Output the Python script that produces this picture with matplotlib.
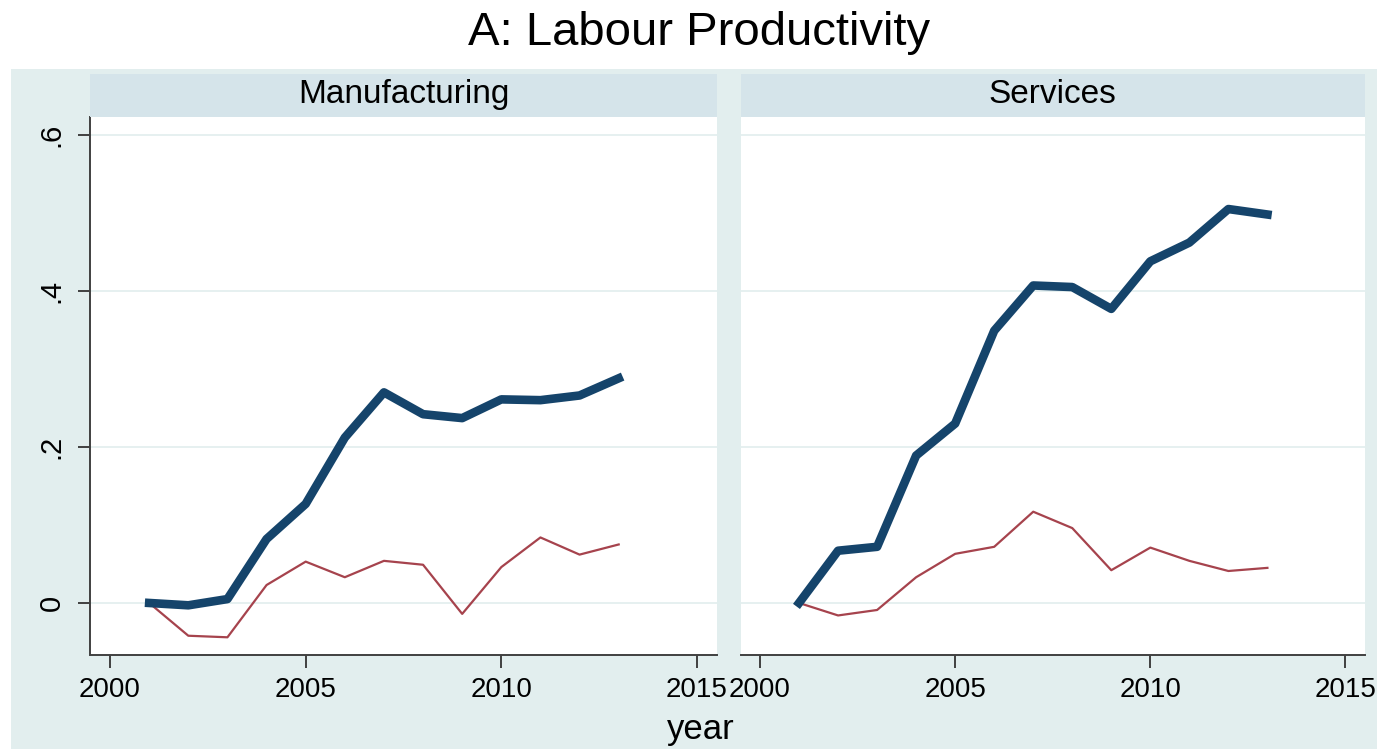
import numpy as np
import matplotlib.pyplot as plt
from matplotlib.patches import Rectangle

plt.rcParams['font.family'] = ['Liberation Sans', 'DejaVu Sans']

years = [2001, 2002, 2003, 2004, 2005, 2006, 2007, 2008, 2009, 2010, 2011, 2012, 2013]
panels = ['Manufacturing', 'Services']
# thick navy series
manuf_top = [0.000, -0.003, 0.005, 0.082, 0.127, 0.212, 0.270, 0.242, 0.237, 0.261, 0.260, 0.266, 0.288]
serv_top = [0.000, 0.067, 0.072, 0.189, 0.230, 0.349, 0.407, 0.405, 0.377, 0.438, 0.462, 0.505, 0.498]
# thin maroon series
manuf_low = [0.000, -0.042, -0.044, 0.023, 0.053, 0.033, 0.054, 0.049, -0.014, 0.046, 0.084, 0.062, 0.075]
serv_low = [0.000, -0.016, -0.009, 0.033, 0.063, 0.072, 0.117, 0.096, 0.042, 0.071, 0.054, 0.041, 0.045]
xticks = [2000, 2005, 2010, 2015]
yticks = [0, 0.2, 0.4, 0.6]
ylabels = ['0', '.2', '.4', '.6']

navy = '#15446b'
maroon = '#a6434d'
bg = '#e2eeee'
strip_c = '#d5e4ea'
grid_c = '#e4efef'
axis_c = '#404040'

W, H = 1383, 752
fig = plt.figure(figsize=(W / 100, H / 100), dpi=100)
fig.patch.set_facecolor('white')
fig.patches.append(Rectangle((11 / W, 3 / H), 1366 / W, 680 / H, transform=fig.transFigure,
                             facecolor=bg, edgecolor='none', zorder=-10))

fig.text(699 / W, 1 - 33 / H, 'A: Labour Productivity', ha='center', va='center', fontsize=34)
fig.text(701 / W, 1 - 730 / H, 'year', ha='center', va='center', fontsize=25)

lefts = [90.5, 740.5]
widths = [626, 624.5]
series = [(manuf_top, manuf_low), (serv_top, serv_low)]
for i, name in enumerate(panels):
    l = lefts[i] / W
    w = widths[i] / W
    ax = fig.add_axes([l, (H - 655) / H, w, 538 / H])
    ax.set_facecolor('white')
    top, low = series[i]
    ax.plot(years, low, color=maroon, lw=1.6, zorder=3)
    ax.plot(years, top, color=navy, lw=6.2, zorder=4)
    ax.set_xlim(1999.5, 2015.5)
    ax.set_ylim(-0.0667, 0.623)
    ax.set_yticks(yticks)
    for y in yticks:
        ax.axhline(y, color=grid_c, lw=1.3, zorder=1)
    ax.set_xticks(xticks)
    ax.tick_params(axis='x', length=9, width=1.4, color=axis_c, pad=7, labelsize=20)
    for s in ['top', 'right']:
        ax.spines[s].set_visible(False)
    ax.spines['bottom'].set_color(axis_c)
    ax.spines['bottom'].set_linewidth(1.4)
    if i == 0:
        ax.set_yticklabels(ylabels, rotation=90, va='center')
        ax.tick_params(axis='y', length=9, width=1.4, color=axis_c, pad=9, labelsize=21)
        ax.spines['left'].set_color(axis_c)
        ax.spines['left'].set_linewidth(1.4)
    else:
        ax.spines['left'].set_visible(False)
        ax.tick_params(axis='y', length=0, labelleft=False)

    # panel header strip
    sax = fig.add_axes([l, (H - 117) / H, w, 43 / H])
    sax.set_facecolor(strip_c)
    sax.set_xticks([])
    sax.set_yticks([])
    for s in sax.spines.values():
        s.set_visible(False)
    sax.text(0.5, 0.52, name, ha='center', va='center', fontsize=24, transform=sax.transAxes)

fig.savefig('out.png', dpi=100)
